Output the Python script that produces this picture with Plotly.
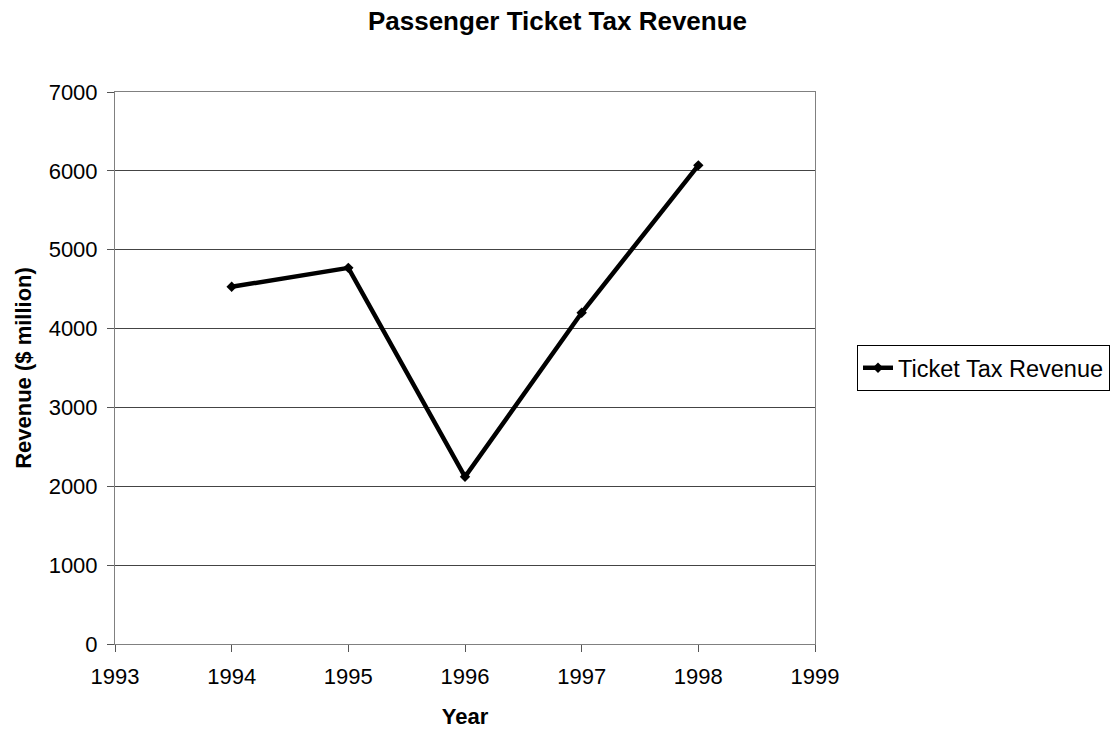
import plotly.graph_objects as go

years = [1994, 1995, 1996, 1997, 1998]
revenue = [4530, 4770, 2120, 4200, 6070]

FONT = "Liberation Sans, Arial, sans-serif"

fig = go.Figure()
fig.add_trace(go.Scatter(
    x=years, y=revenue, mode="lines+markers",
    name="Ticket Tax Revenue",
    line=dict(color="black", width=4.5),
    marker=dict(symbol="diamond", size=8, color="black"),
))

fig.update_layout(
    width=1115, height=729,
    paper_bgcolor="white", plot_bgcolor="white",
    margin=dict(l=115, r=300, t=92, b=85),
    font=dict(family=FONT, size=22, color="black"),
    title=dict(text="<b>Passenger Ticket Tax Revenue</b>", x=0.5, xanchor="center",
               y=1 - 21 / 729, yanchor="middle", font=dict(size=26)),
    showlegend=True,
    legend=dict(xref="container", yref="container",
                x=857 / 1115, y=1 - 368 / 729, xanchor="left", yanchor="middle",
                bordercolor="black", borderwidth=1, bgcolor="white",
                font=dict(size=23.5), itemwidth=30, tracegroupgap=0),
    xaxis=dict(range=[1993, 1999], dtick=1, tick0=1993, automargin=False,
               showgrid=False, zeroline=False,
               showline=True, linecolor="#808080", linewidth=1, mirror=True,
               ticks="outside", ticklen=7, tickcolor="#555",
               ticklabelstandoff=6, tickfont=dict(size=22),
               title=dict(text="<b>Year</b>", font=dict(size=22), standoff=31)),
    yaxis=dict(range=[0, 7000], dtick=1000, automargin=False,
               showgrid=True, gridcolor="#444", gridwidth=1, zeroline=False,
               showline=True, linecolor="#808080", linewidth=1, mirror=True,
               ticks="outside", ticklen=7, tickcolor="#555",
               ticklabelstandoff=5, tickfont=dict(size=22),
               title=dict(text="<b>Revenue ($ million)</b>", font=dict(size=22), standoff=10)),
)

fig.write_html("out.html")
